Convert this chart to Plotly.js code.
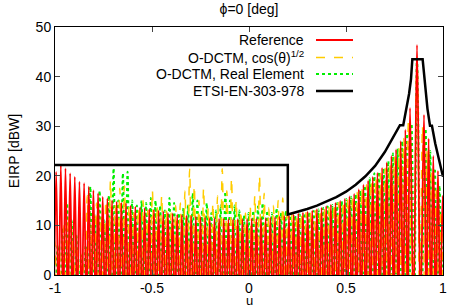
<!DOCTYPE html>
<html><head><meta charset="utf-8">
<script src="https://cdn.plot.ly/plotly-3.0.1.min.js"></script>
<style>html,body{margin:0;padding:0;background:#fff}</style>
</head><body><div id="chart" style="width:449px;height:308px"></div>
<script>
// lobe centres in u
const uLobe = [
 -0.994,-0.970,-0.946,-0.922,-0.898,-0.874,-0.850,-0.826,-0.802,-0.778,
 -0.754,-0.730,-0.706,-0.682,-0.658,-0.634,-0.610,-0.586,-0.562,-0.538,
 -0.514,-0.490,-0.466,-0.442,-0.418,-0.394,-0.370,-0.346,-0.322,-0.298,
 -0.274,-0.250,-0.226,-0.202,-0.178,-0.154,-0.130,-0.106,-0.082,-0.058,
 -0.034,-0.010,0.014,0.038,0.062,0.086,0.110,0.134,0.158,0.182,
 0.206,0.230,0.254,0.278,0.302,0.326,0.350,0.374,0.398,0.422,
 0.446,0.470,0.494,0.518,0.542,0.566,0.590,0.614,0.638,0.662,
 0.686,0.710,0.734,0.758,0.782,0.806,0.830,
 0.866,
 0.902,0.926,0.950,0.974,0.998];
const mainIdx = 77; // main beam lobe
// lobe peak EIRP [dBW]
const refPeak = [
 20.8,22.2,21.5,20.5,19.8,18.8,18.5,17.8,17.1,16.5,
 15.8,15.5,15.1,14.8,14.6,14.5,14.0,13.8,13.6,13.5,
 13.3,13.2,13.0,12.8,12.5,12.4,12.2,12.1,12.0,11.9,
 11.8,11.7,11.6,11.5,11.5,11.4,11.4,11.3,11.3,11.3,
 11.3,11.3,11.4,11.4,11.5,11.5,11.6,11.7,11.8,11.9,
 12.0,12.2,12.4,12.6,12.8,13.0,13.3,13.6,13.9,14.2,
 14.6,15.0,15.4,15.9,16.4,17.3,18.2,19.0,19.8,20.6,
 21.6,22.7,24.0,25.3,27.0,29.3,33.7,
 46.4,
 32.3,27.5,24.0,21.0,16.0];
const cosPeak = [
 7,5,10,12,9,5,4.5,16,10,14.5,
 12,15,19,14,17.5,18,14,12.5,13.5,15,
 13,17,14,16,13,12.5,14,14.5,17,21.3,
 18,15,17.5,13.5,14.5,16,21.4,17,19.5,15,
 13,12.5,14,16,20,16.5,13.5,14,15,15.5,
 14,12.5,12,12.5,12.6,12.8,13,13.3,13.6,14,
 14.3,14.6,15,15.5,16,16.7,17.5,18.2,19,19.6,
 20.5,21.5,22.5,23.8,25.5,27.5,31,
 43,
 30,25,21,18,13];
const realPeak = [
 6,9.5,14.5,11,8,4,6,17.8,12,17,
 11,16,21.5,15,20.5,20.8,15,14,15,14.5,
 15.5,15,14,13,15.5,14.5,12.5,13.5,14,16.5,
 15,13,14.5,12.5,13,14,16.8,15,14,13,
 12,12.5,13,13.8,14.5,13,12.5,13.5,12.5,13,
 12,12,12.2,12.5,12.7,12.9,13.2,13.5,13.8,14.1,
 14.5,14.9,15.3,15.8,16.3,17,18,19.5,20.5,20.8,
 21.5,23,24.5,25.5,27,28.5,30.5,
 43.5,
 29.5,25,21.5,18,13.5];
// depth of the nulls between lobes (below the axis floor)
const refNull = -8, cosNull = -8, realNull = -8;
// sidelobe position offset of the O-DCTM patterns relative to the reference (u)
const cosShift = -0.008, realShift = 0.008;
// ETSI-EN-303-978 mask
const etsiU = [-1,0.2,0.2,0.25,0.3,0.35,0.4,0.45,0.5,0.55,0.6,0.65,0.7,0.75,0.778,0.795,0.81,0.825,0.835,0.842,0.895,0.905,0.92,0.933,0.943,0.96,0.98,1.0];
const etsiY = [22.2,22.2,12.2,12.7,13.3,14.0,14.8,15.7,16.8,18.2,19.9,22.0,24.8,28.3,30.2,30.2,33,36.5,39.5,43.5,43.5,39,33.5,30.1,30.1,26.5,22.8,19.8];

const names = ['Reference','O-DCTM, cos(θ)<sup>1/2</sup>','O-DCTM, Real Element','ETSI-EN-303-978'];
const colors = ['#ff0000','#ffcc00','#00ee00','#000000'];
const dashes = ['solid','dash','dot','solid'];
const widths = [1.8,1.5,2,2.5];

function lobes(peaks, nd, shift){
  const c = uLobe.map((u,i)=> i===mainIdx ? u : u+shift);
  const x=[], y=[];
  for(let i=0;i<c.length;i++){
    const prev = i===0 ? c[0]-0.012 : (c[i-1]+c[i])/2;
    x.push(prev); y.push(nd);
    x.push(c[i]); y.push(peaks[i]);
  }
  x.push(c[c.length-1]+0.012); y.push(nd);
  return {x,y};
}
const series=[lobes(refPeak,refNull,0),lobes(cosPeak,cosNull,cosShift),lobes(realPeak,realNull,realShift),{x:etsiU,y:etsiY}];
const mk = i => ({x:series[i].x,y:series[i].y,type:'scatter',mode:'lines',
  line:{color:colors[i],width:widths[i],dash:dashes[i],shape:i<3?'spline':'linear'},
  hoverinfo:'skip',showlegend:false});
const traces=[mk(2),mk(1),mk(0),mk(3)];

const font = {family:'Liberation Sans, Arial, sans-serif', size:14, color:'#000'};
const legY=[40,57.5,74,91];
const annotations=[], shapes=[];
const pl=55, pr=443, pt=27, pb=275;
legY.forEach((py,i)=>{
  const yp=(pb-py)/(pb-pt);
  annotations.push({xref:'paper',yref:'paper',x:(306-pl)/(pr-pl),y:yp,xanchor:'right',yanchor:'middle',
    text:names[i],showarrow:false,font:font});
  shapes.push({type:'line',xref:'paper',yref:'paper',x0:(316-pl)/(pr-pl),x1:(353-pl)/(pr-pl),y0:yp,y1:yp,
    line:{color:colors[i],width:widths[i],dash:dashes[i]}});
});
// x axis title
annotations.push({xref:'paper',yref:'paper',x:0.5,y:(pb-300)/(pb-pt),xanchor:'center',yanchor:'middle',
  text:'u',showarrow:false,font:{family:font.family,size:13,color:'#000'},borderpad:0});
const layout={
  width:449,height:308,margin:{l:pl,r:449-pr,t:pt,b:308-pb},
  paper_bgcolor:'#fff',plot_bgcolor:'#fff',font:font,
  title:{text:'ϕ=0 [deg]',x:249/449,xanchor:'center',y:1-9/308,yanchor:'middle',font:font},
  xaxis:{range:[-1,1],tickvals:[-1,-0.5,0,0.5,1],ticktext:['-1','-0.5','0','0.5','1'],
    ticks:'inside',ticklen:5,showgrid:false,zeroline:false,showline:true,linecolor:'#000',linewidth:1,mirror:'allticks',
    tickfont:font},
  yaxis:{range:[0,50],tickvals:[0,10,20,30,40,50],
    ticks:'inside',ticklen:5,showgrid:false,zeroline:false,showline:true,linecolor:'#000',linewidth:1,mirror:'allticks',
    title:{text:'EIRP [dBW]',font:font,standoff:12},tickfont:font},
  annotations:annotations,shapes:shapes
};
Plotly.newPlot('chart',traces,layout,{displayModeBar:false,staticPlot:true});
</script></body></html>
